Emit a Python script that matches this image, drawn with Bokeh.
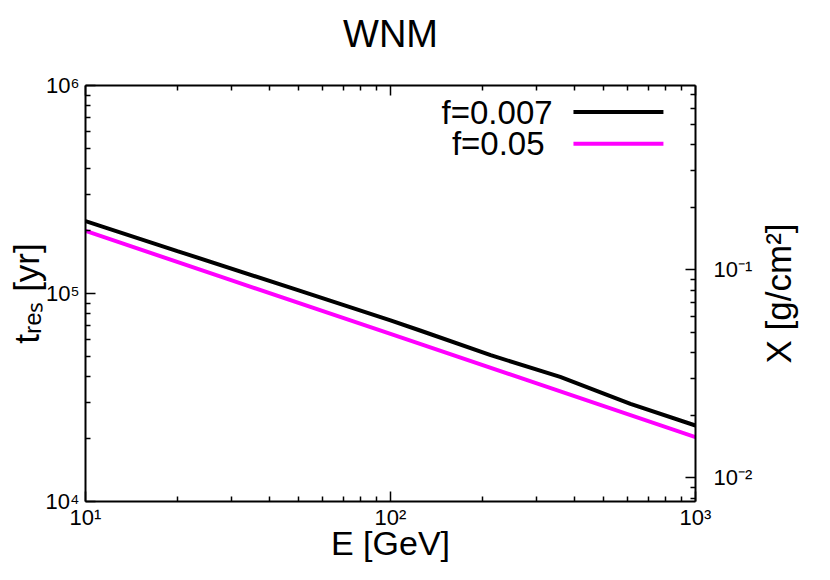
import math
from bokeh.plotting import figure
from bokeh.layouts import row, column
from bokeh.models import (LogAxis, Range1d, LogScale, FixedTicker, Label, Arrow)
from bokeh.embed import file_html
from bokeh.resources import INLINE

# ---- data ----
E_f0007 = [10, 20, 50, 100, 125, 213, 360, 612, 1000]
t_f0007 = [2.23e5, 1.60e5, 1.035e5, 7.43e4, 6.64e4, 5.05e4, 3.97e4, 2.95e4, 2.32e4]

E_f005 = [10, 30, 100, 300, 1000]
t_f005 = [2.0e5, 1.16e5, 6.39e4, 3.71e4, 2.04e4]

series_labels = ["f=0.007", "f=0.05"]
series_colors = ["#000000", "#ff00ff"]

x_ticks = [10, 100, 1000]
x_tick_labels = ["10\u00b9", "10\u00b2", "10\u00b3"]
y_ticks = [1e4, 1e5, 1e6]
y_tick_labels = ["10\u2074", "10\u2075", "10\u2076"]
y2_ticks = [0.01, 0.1]
y2_tick_labels = ["10\u207b\u00b2", "10\u207b\u00b9"]

title_text = "WNM"
x_label = "E [GeV]"
y_label = "t\u1d63\u2091\u209b [yr]"
y2_label = "X [g/cm\u00b2]"

FONT = "Liberation Sans"

def minors(lo_exp, hi_exp):
    out = []
    for e in range(lo_exp, hi_exp + 1):
        for m in range(2, 10):
            out.append(m * 10.0 ** e)
    return out

def blank_fig(w, h):
    f = figure(width=w, height=h, x_range=(0, 1), y_range=(0, 1),
               output_backend="svg", toolbar_location=None,
               min_border=0, min_border_left=0, min_border_right=0,
               min_border_top=0, min_border_bottom=0)
    f.axis.visible = False
    f.grid.visible = False
    f.outline_line_color = None
    f.background_fill_color = "white"
    f.border_fill_color = "white"
    return f

TITLE_H = 60
H = 564 - TITLE_H
W_MAIN = 757

# ---- title strip ----
pt = blank_fig(814, TITLE_H)
pt.add_layout(Label(x=390, y=TITLE_H - 33, x_units="screen", y_units="screen",
                    text=title_text, text_align="center", text_baseline="middle",
                    text_font=FONT, text_font_size="38px", text_color="black"))

# ---- main plot ----
p = figure(width=W_MAIN, height=H, x_axis_type="log", y_axis_type="log",
           x_range=(10, 1000), y_range=(1e4, 1e6),
           output_backend="svg", toolbar_location=None,
           min_border_left=85, min_border_right=62,
           min_border_top=85 - TITLE_H, min_border_bottom=58)
p.grid.visible = False
p.outline_line_color = None
p.background_fill_color = "white"
p.border_fill_color = "white"

# second y scale (X in g/cm^2)
p.extra_y_ranges = {"X": Range1d(10 ** -2.113, 10 ** -0.113)}
p.extra_y_scales = {"X": LogScale()}

def style_axis(ax, fs="22px"):
    ax.axis_line_width = 2
    ax.axis_line_color = "black"
    ax.major_tick_in = 10
    ax.major_tick_out = 0
    ax.minor_tick_in = 5
    ax.minor_tick_out = 0
    ax.major_tick_line_width = 1.5
    ax.minor_tick_line_width = 1.5
    ax.major_label_text_font = FONT
    ax.major_label_text_font_size = fs
    ax.major_label_text_color = "black"
    ax.axis_label_text_font = FONT
    ax.axis_label_text_font_size = "35px"
    ax.axis_label_text_font_style = "normal"
    ax.axis_label_text_color = "black"

xa = p.xaxis[0]
xa.ticker = FixedTicker(ticks=x_ticks, minor_ticks=minors(1, 2))
xa.major_label_overrides = dict(zip(x_ticks, x_tick_labels))
style_axis(xa)
xa.major_label_standoff = 3
xa.axis_label = x_label
xa.axis_label_text_font_size = "34px"
xa.axis_label_standoff = -9

ya = p.yaxis[0]
ya.ticker = FixedTicker(ticks=y_ticks, minor_ticks=minors(4, 5))
ya.major_label_overrides = dict(zip(y_ticks, y_tick_labels))
style_axis(ya)
ya.major_label_standoff = 6
ya.axis_label = y_label
ya.axis_label_standoff = -3

top = LogAxis(ticker=FixedTicker(ticks=x_ticks, minor_ticks=minors(1, 2)),
              major_label_overrides={t: "" for t in x_ticks})
style_axis(top)
top.major_label_standoff = 0
p.add_layout(top, "above")

right = LogAxis(y_range_name="X",
                ticker=FixedTicker(ticks=y2_ticks, minor_ticks=minors(-3, -1)),
                major_label_overrides=dict(zip(y2_ticks, y2_tick_labels)))
style_axis(right)
right.major_label_standoff = 18
p.add_layout(right, "right")

# data lines
p.line(E_f0007, t_f0007, line_width=4, line_color=series_colors[0])
p.line(E_f005, t_f005, line_width=4, line_color=series_colors[1])

# key (text, then the sample line to its right), placed in data units
key_y = [7.45e5, 5.25e5]
key_text_x = [340, 320]
key_line_x = (398, 785)
for lbl, col, ky, kx in zip(series_labels, series_colors, key_y, key_text_x):
    p.add_layout(Label(x=kx, y=ky, text=lbl, text_font=FONT, text_font_size="33px",
                       text_align="right", text_baseline="middle", text_color="black"))
    p.add_layout(Arrow(x_start=key_line_x[0], y_start=ky, x_end=key_line_x[1], y_end=ky,
                       end=None, line_width=4, line_color=col))

# ---- narrow strip holding the right-hand axis title (reads bottom to top);
#      its frame is aligned with the main frame, so y=0.5 is the frame middle ----
p2 = blank_fig(814 - W_MAIN, H)
p2.add_layout(Label(x=21, y=0.5, x_units="screen", y_units="data",
                    text=y2_label, angle=math.pi / 2, text_align="center",
                    text_baseline="middle", text_font=FONT,
                    text_font_size="35px", text_color="black"))

layout = column(pt, row(p, p2, spacing=0), spacing=0)
open("out.html", "w").write(file_html(layout, INLINE))
